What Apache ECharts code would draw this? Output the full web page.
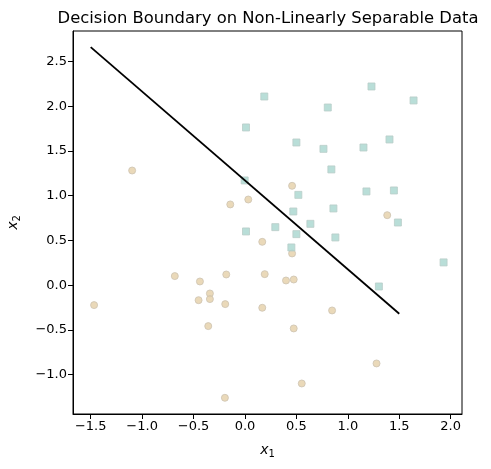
<!DOCTYPE html>
<html>
<head>
<meta charset="utf-8">
<script src="https://cdn.jsdelivr.net/npm/echarts@6/dist/echarts.min.js"></script>
<style>
html,body{margin:0;padding:0;background:#fff;}
#main{width:491px;height:469px;}
</style>
</head>
<body>
<div id="main"></div>
<script>
// class 0 (circles)
var circlesX = [-1.097, -0.143, 0.032, 0.458, 1.383, 0.168, 0.458, 0.192, 0.399, 0.474,
                0.168, 0.847, 0.474, 1.279, 0.552, -0.682, -0.438, -0.182, -0.341, -0.451,
                -0.341, -0.192, -1.467, -0.357, -0.195];
var circlesY = [1.281, 0.902, 0.957, 1.110, 0.782, 0.484, 0.354, 0.123, 0.052, 0.063,
                -0.253, -0.283, -0.484, -0.875, -1.099, 0.101, 0.041, 0.119, -0.093, -0.168,
                -0.156, -0.212, -0.223, -0.458, -1.259];
// class 1 (squares)
var squaresX = [0.188, 0.010, -0.003, 0.010, 1.230, 1.639, 0.805, 0.500, 0.763, 1.152,
                1.405, 0.840, 0.519, 1.181, 1.448, 0.470, 0.860, 1.487, 0.295, 0.636,
                0.500, 0.879, 0.451, 1.931, 1.302];
var squaresY = [2.108, 1.762, 1.170, 0.600, 2.220, 2.064, 1.985, 1.594, 1.523, 1.538,
                1.628, 1.293, 1.009, 1.047, 1.058, 0.823, 0.857, 0.700, 0.648, 0.685,
                0.570, 0.533, 0.421, 0.254, -0.015];
// decision boundary end points
var boundaryX = [-1.5, 1.5];
var boundaryY = [2.66, -0.32];

var xTicks = [-1.5, -1.0, -0.5, 0.0, 0.5, 1.0, 1.5, 2.0];
var yTicks = [-1.0, -0.5, 0.0, 0.5, 1.0, 1.5, 2.0, 2.5];

function pairs(xs, ys){
    var res = [];
    for (var i = 0; i < xs.length; i++) {
        res.push([xs[i], ys[i]]);
    }
    return res;
}
function fmt(v){
    return v.toFixed(1).replace('-', '\u2212');
}

var chart = echarts.init(document.getElementById('main'));
var font = 'DejaVu Sans, sans-serif';
var option = {
    animation: false,
    backgroundColor: '#fff',
    title: {
        text: 'Decision Boundary on Non-Linearly Separable Data',
        left: 263,
        textAlign: 'center',
        top: 6,
        textStyle: {fontFamily: font, fontSize: 16.4, fontWeight: 'normal', color: '#000'}
    },
    grid: {
        left: 73, right: 29, top: 31, bottom: 55,
        outerBoundsMode: 'none',
        containLabel: false,
        show: true, borderColor: '#000', borderWidth: 1, backgroundColor: 'transparent'
    },
    xAxis: {
        type: 'value',
        min: -1.672, max: 2.11,
        name: '{i|x}{s|1}',
        nameLocation: 'middle',
        nameGap: 27,
        nameTextStyle: {
            rich: {
                i: {fontFamily: font, fontSize: 14, fontStyle: 'italic', color: '#000'},
                s: {fontFamily: font, fontSize: 10, color: '#000', verticalAlign: 'bottom', padding: [8, 0, 0, 0]}
            }
        },
        axisLine: {show: true, onZero: false, lineStyle: {color: '#000', width: 1}},
        axisTick: {show: true, length: 5, inside: false, customValues: xTicks, lineStyle: {color: '#000'}},
        axisLabel: {
            customValues: xTicks, formatter: fmt, margin: 6,
            fontFamily: font, fontSize: 13, color: '#000'
        },
        splitLine: {show: false}
    },
    yAxis: {
        type: 'value',
        min: -1.44, max: 2.84,
        name: '{i|x}{s|2}',
        nameLocation: 'middle',
        nameGap: 51,
        nameRotate: 90,
        nameTextStyle: {
            rich: {
                i: {fontFamily: font, fontSize: 14, fontStyle: 'italic', color: '#000'},
                s: {fontFamily: font, fontSize: 10, color: '#000', verticalAlign: 'bottom', padding: [8, 0, 0, 0]}
            }
        },
        axisLine: {show: true, onZero: false, lineStyle: {color: '#000', width: 1}},
        axisTick: {show: true, length: 5, inside: false, customValues: yTicks, lineStyle: {color: '#000'}},
        axisLabel: {
            customValues: yTicks, formatter: fmt, margin: 6,
            fontFamily: font, fontSize: 13, color: '#000'
        },
        splitLine: {show: false}
    },
    series: [
        {
            type: 'scatter',
            symbol: 'circle',
            symbolSize: 7,
            data: pairs(circlesX, circlesY),
            itemStyle: {color: 'rgb(229,208,167)', borderColor: 'rgb(205,195,178)', borderWidth: 1}
        },
        {
            type: 'scatter',
            symbol: 'rect',
            symbolSize: 7,
            data: pairs(squaresX, squaresY),
            itemStyle: {color: 'rgb(168,214,206)', borderColor: 'rgb(185,205,200)', borderWidth: 1}
        },
        {
            type: 'line',
            data: pairs(boundaryX, boundaryY),
            symbol: 'none',
            lineStyle: {color: '#000', width: 1.8}
        }
    ]
};
chart.setOption(option);
</script>
</body>
</html>
